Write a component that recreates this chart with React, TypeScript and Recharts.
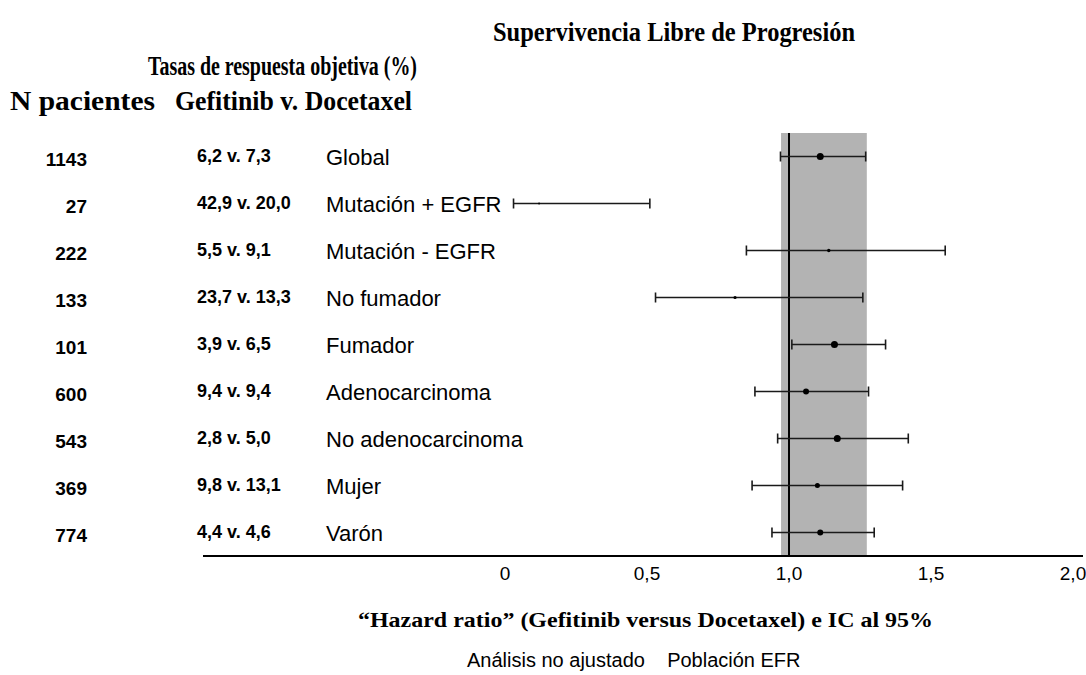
import React from 'react';
import { ScatterChart, Scatter, XAxis, YAxis, ErrorBar, ReferenceLine, ReferenceArea } from 'recharts';

// rows, top to bottom
const subgroups = [
  'Global',
  'Mutación + EGFR',
  'Mutación - EGFR',
  'No fumador',
  'Fumador',
  'Adenocarcinoma',
  'No adenocarcinoma',
  'Mujer',
  'Varón',
];
const patients = [1143, 27, 222, 133, 101, 600, 543, 369, 774];
const responseRates = [
  '6,2 v. 7,3',
  '42,9 v. 20,0',
  '5,5 v. 9,1',
  '23,7 v. 13,3',
  '3,9 v. 6,5',
  '9,4 v. 9,4',
  '2,8 v. 5,0',
  '9,8 v. 13,1',
  '4,4 v. 4,6',
];
const hazardRatio = [1.11, 0.12, 1.14, 0.81, 1.16, 1.06, 1.17, 1.1, 1.11];
const ciLower = [0.97, 0.03, 0.85, 0.53, 1.01, 0.88, 0.96, 0.87, 0.94];
const ciUpper = [1.27, 0.51, 1.55, 1.26, 1.34, 1.28, 1.42, 1.4, 1.3];
const markerRadius = [3.5, 1, 1.7, 1.6, 3.5, 3, 3.5, 2.5, 3];

const xTicks = [0, 0.5, 1, 1.5, 2];
const shadedBand = [0.972, 1.274];

const data = subgroups.map((name, i) => ({
  row: i,
  name,
  hr: hazardRatio[i],
  err: [hazardRatio[i] - ciLower[i], ciUpper[i] - hazardRatio[i]],
  r: markerRadius[i],
}));

const SANS = 'Liberation Sans, Arial, sans-serif';
const SERIF = 'Liberation Serif, Times New Roman, serif';

const formatTick = (v: number) => (v === 0 ? '0' : v.toFixed(1).replace('.', ','));

// left-hand columns drawn as the y axis ticks
const RowTick = (props: any) => {
  const { y, payload } = props;
  const i = payload.value as number;
  return (
    <g>
      <text x={87} y={y + 9} textAnchor="end" fontFamily={SANS} fontWeight="bold" fontSize={19} fill="#000">
        {patients[i]}
      </text>
      <text x={197} y={y + 5} fontFamily={SANS} fontWeight="bold" fontSize={18} fill="#000">
        {responseRates[i]}
      </text>
      <text x={326} y={y + 8} fontFamily={SANS} fontSize={22} fill="#000">
        {subgroups[i]}
      </text>
    </g>
  );
};

const Dot = (p: any) => <circle cx={p.cx} cy={p.cy} r={p.payload.r} fill="#000" />;

const App: React.FC = () => {
  return (
    <div style={{ position: 'absolute', left: 0, top: 0, width: 1086, height: 675, background: '#fff' }}>
      <ScatterChart width={1086} height={675} margin={{ top: 133, right: 3, bottom: 0, left: 3 }}>
        <ReferenceArea x1={shadedBand[0]} x2={shadedBand[1]} fill="#b3b3b3" fillOpacity={1} stroke="none" />
        <XAxis
          type="number"
          dataKey="hr"
          domain={[-1.0634, 2.0352]}
          ticks={xTicks}
          allowDataOverflow
          tickFormatter={formatTick}
          axisLine={{ stroke: '#000', strokeWidth: 2 }}
          tickLine={false}
          tickSize={0}
          tickMargin={11}
          tick={{ fill: '#000', fontSize: 19, fontFamily: SANS }}
          height={119}
        />
        <YAxis
          type="number"
          dataKey="row"
          domain={[-0.5, 8.5]}
          reversed
          ticks={subgroups.map((_, i) => i)}
          interval={0}
          axisLine={false}
          tickLine={false}
          width={200}
          tick={<RowTick />}
        />
        <ReferenceLine x={1} stroke="#000" strokeWidth={2} />
        <Scatter data={data} shape={<Dot />} isAnimationActive={false}>
          <ErrorBar dataKey="err" direction="x" width={5} stroke="#1a1a1a" strokeWidth={1.6} />
        </Scatter>
      </ScatterChart>
      <svg width={1086} height={675} style={{ position: 'absolute', left: 0, top: 0, pointerEvents: 'none' }}>
        <text x={493} y={41} fontFamily={SERIF} fontWeight="bold" fontSize={28} textLength={362} lengthAdjust="spacingAndGlyphs">
          Supervivencia Libre de Progresión
        </text>
        <text x={148} y={75} fontFamily={SERIF} fontWeight="bold" fontSize={28} textLength={269} lengthAdjust="spacingAndGlyphs">
          Tasas de respuesta objetiva (%)
        </text>
        <text x={10} y={110} fontFamily={SERIF} fontWeight="bold" fontSize={28} textLength={145} lengthAdjust="spacingAndGlyphs">
          N pacientes
        </text>
        <text x={175} y={110} fontFamily={SERIF} fontWeight="bold" fontSize={28} textLength={237} lengthAdjust="spacingAndGlyphs">
          Gefitinib v. Docetaxel
        </text>
        <text x={358} y={627} fontFamily={SERIF} fontWeight="bold" fontSize={22} textLength={575} lengthAdjust="spacingAndGlyphs">
          “Hazard ratio” (Gefitinib versus Docetaxel) e IC al 95%
        </text>
        <text x={467} y={667} fontFamily={SANS} fontSize={20}>
          Análisis no ajustado{'\u00A0\u00A0\u00A0\u00A0'}Población EFR
        </text>
      </svg>
    </div>
  );
};

export default App;
